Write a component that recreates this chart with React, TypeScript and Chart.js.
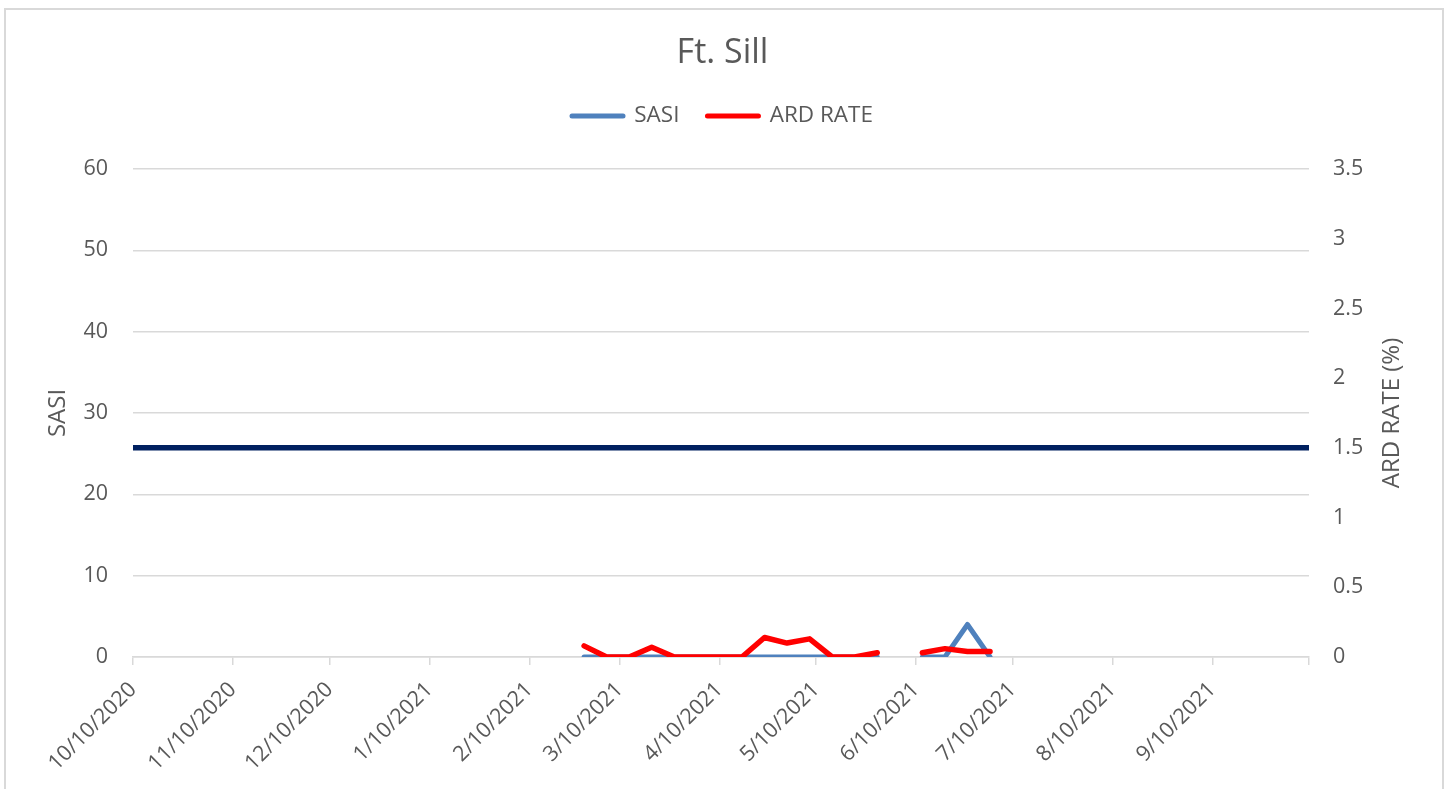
import React, { useEffect, useRef } from 'react';
import { Chart, registerables } from 'chart.js';

Chart.register(...registerables);

// ---- data ----
const weekDates = [
  '2/27/2021', '3/6/2021', '3/13/2021', '3/20/2021', '3/27/2021', '4/3/2021',
  '4/10/2021', '4/17/2021', '4/24/2021', '5/1/2021', '5/8/2021', '5/15/2021',
  '5/22/2021', '5/29/2021', '6/5/2021', '6/12/2021', '6/19/2021', '6/26/2021',
  '7/3/2021',
];
const sasiValues: (number | null)[] = [0, 0, 0, 0, 0, 0, 0, 0, 0, 0, 0, 0, 0, 0, null, 0, 0, 4, 0];
const ardRateValues: (number | null)[] = [
  0.08, 0, 0, 0.07, 0, 0, 0, 0, 0.14, 0.1, 0.13, 0, 0, 0.03, null, 0.03, 0.06, 0.04, 0.04,
];
const tickDates = [
  '10/10/2020', '11/10/2020', '12/10/2020', '1/10/2021', '2/10/2021', '3/10/2021',
  '4/10/2021', '5/10/2021', '6/10/2021', '7/10/2021', '8/10/2021', '9/10/2021', '10/10/2021',
];
const ARD_THRESHOLD = 1.5;
const SASI_MAX = 60;
const SASI_STEP = 10;
const ARD_MAX = 3.5;
const ARD_STEP = 0.5;

const TEXT = '#595959';
const GRID = '#D9D9D9';
const FONT = '"Open Sans", sans-serif';
const TICK_SIZE = 21.5;
const AXIS_TITLE_SIZE = 24;

function parseDate(s: string) {
  const [m, d, y] = s.split('/').map(Number);
  return Date.UTC(y, m - 1, d);
}
const ORIGIN = parseDate(tickDates[0]);
const toDay = (s: string) => Math.round((parseDate(s) - ORIGIN) / 86400000);
const tickDays = tickDates.map(toDay);

const LEGEND_EXTRA = 31.75;

const legendSpacer = {
  id: 'legendSpacer',
  beforeLayout(chart: any) {
    const lg = chart.legend;
    if (lg && !lg.__patched) {
      const orig = lg.fit.bind(lg);
      lg.fit = function () {
        orig();
        this.height += LEGEND_EXTRA;
      };
      lg.__patched = true;
    }
  },
};

const rightTitle = {
  id: 'rightTitle',
  afterDraw(chart: any) {
    const { ctx, chartArea } = chart;
    ctx.save();
    ctx.translate(chartArea.right + 83, (chartArea.top + chartArea.bottom) / 2);
    ctx.rotate(-Math.PI / 2);
    ctx.font = `${AXIS_TITLE_SIZE}px ${FONT}`;
    ctx.fillStyle = TEXT;
    ctx.textAlign = 'center';
    ctx.textBaseline = 'middle';
    ctx.fillText('ARD RATE (%)', 0, 0);
    ctx.restore();
  },
};

export default function App() {
  const ref = useRef<HTMLCanvasElement | null>(null);

  useEffect(() => {
    if (!ref.current) return;
    Chart.defaults.font.family = FONT;
    Chart.defaults.color = TEXT;
    const chart = new Chart(ref.current, {
      type: 'line',
      data: {
        datasets: [
          {
            label: 'SASI',
            data: weekDates.map((d, i) => ({ x: toDay(d), y: sasiValues[i] })) as any,
            yAxisID: 'y',
            borderColor: '#4F81BD',
            backgroundColor: '#4F81BD',
            borderWidth: 5,
            pointRadius: 0,
            tension: 0,
            spanGaps: false,
            borderCapStyle: 'round',
            borderJoinStyle: 'round',
            order: 2,
          },
          {
            label: 'ARD RATE',
            data: weekDates.map((d, i) => ({ x: toDay(d), y: ardRateValues[i] })) as any,
            yAxisID: 'y1',
            borderColor: '#FF0000',
            backgroundColor: '#FF0000',
            borderWidth: 5.5,
            pointRadius: 0,
            tension: 0,
            spanGaps: false,
            borderCapStyle: 'round',
            borderJoinStyle: 'round',
            order: 1,
          },
          {
            label: 'ARD Threshold',
            data: [
              { x: tickDays[0], y: ARD_THRESHOLD },
              { x: tickDays[tickDays.length - 1], y: ARD_THRESHOLD },
            ],
            yAxisID: 'y1',
            borderColor: '#002060',
            backgroundColor: '#002060',
            borderWidth: 5.5,
            pointRadius: 0,
            borderCapStyle: 'round',
            order: 3,
          },
        ],
      },
      options: {
        responsive: false,
        animation: false,
        events: [],
        layout: { padding: 0 },
        plugins: {
          tooltip: { enabled: false },
          title: {
            display: true,
            text: 'Ft. Sill',
            color: TEXT,
            font: { size: 34, weight: 'normal', family: FONT },
            padding: { top: 32.6, bottom: 3.35 },
          },
          legend: {
            display: true,
            position: 'top',
            labels: {
              usePointStyle: true,
              pointStyleWidth: 51,
              padding: 28,
              color: TEXT,
              font: { size: 22.5, family: FONT },
              generateLabels: (c: any) =>
                [0, 1].map((i) => {
                  const ds = c.data.datasets[i];
                  return {
                    text: ds.label,
                    fillStyle: ds.borderColor,
                    strokeStyle: ds.borderColor,
                    lineWidth: 5,
                    lineCap: 'round',
                    pointStyle: 'line',
                    hidden: false,
                    datasetIndex: i,
                    fontColor: TEXT,
                  };
                }),
            },
          },
        },
        scales: {
          x: {
            type: 'linear',
            min: tickDays[0],
            max: tickDays[tickDays.length - 1],
            afterBuildTicks: (s: any) => {
              s.ticks = tickDays.map((v) => ({ value: v }));
            },
            afterFit: (s: any) => {
              s.height = 132;
            },
            ticks: {
              autoSkip: false,
              minRotation: 45,
              maxRotation: 45,
              padding: 12,
              color: TEXT,
              font: { size: TICK_SIZE },
              callback: (_v: any, i: number) => (i < tickDates.length - 1 ? tickDates[i] : ''),
            },
            grid: {
              drawOnChartArea: false,
              drawTicks: true,
              tickLength: 8,
              color: GRID,
              lineWidth: 1.5,
            },
            border: { display: true, color: GRID, width: 1.5 },
          },
          y: {
            type: 'linear',
            position: 'left',
            min: 0,
            max: SASI_MAX,
            afterFit: (s: any) => {
              s.width = 133;
            },
            ticks: { stepSize: SASI_STEP, padding: 25, color: TEXT, font: { size: TICK_SIZE } },
            grid: { color: GRID, lineWidth: 1.5, drawTicks: false },
            border: { display: false },
            title: {
              display: true,
              text: 'SASI',
              color: TEXT,
              font: { size: AXIS_TITLE_SIZE },
              padding: { top: 58 - AXIS_TITLE_SIZE * 0.6, bottom: 0 },
            },
          },
          y1: {
            type: 'linear',
            position: 'right',
            min: 0,
            max: ARD_MAX,
            afterFit: (s: any) => {
              s.width = 136;
            },
            ticks: {
              stepSize: ARD_STEP,
              padding: 24,
              color: TEXT,
              font: { size: TICK_SIZE },
              callback: (v: any) => String(v),
            },
            grid: { drawOnChartArea: false, drawTicks: false },
            border: { display: false },
          },
        },
      },
      plugins: [legendSpacer, rightTitle],
    } as any);
    return () => chart.destroy();
  }, []);

  return (
    <div style={{ position: 'fixed', left: 0, top: 0, width: 1445, height: 789, background: '#fff', overflow: 'hidden' }}>
      <canvas ref={ref} width={1445} height={789} style={{ display: 'block', width: 1445, height: 789 }} />
      <div
        style={{
          position: 'absolute',
          left: 4,
          top: 8,
          width: 1440,
          height: 790,
          border: `2px solid ${GRID}`,
          borderBottom: 'none',
          boxSizing: 'border-box',
          pointerEvents: 'none',
        }}
      />
    </div>
  );
}
